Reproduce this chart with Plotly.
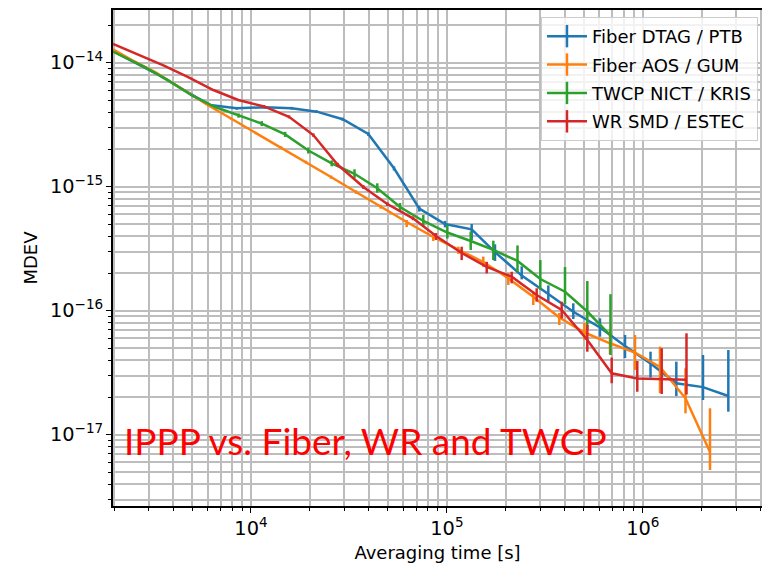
import plotly.graph_objects as go

# averaging time [s] and MDEV, with upper / lower error bar ends, per link
tau_ptb = [1975, 2470, 3351, 4550, 6176, 8453, 11790, 16140, 21650, 29390, 39700, 53700, 72300,
           97800, 133800, 176000, 240900, 329400, 441800, 604600, 811300, 1.095e6, 1.483e6,
           2.029e6, 2.733e6]
mdev_ptb = [1.243e-14, 1.032e-14, 8.03e-15, 6.02e-15, 4.56e-15, 4.29e-15, 4.37e-15, 4.29e-15,
            4.03e-15, 3.50e-15, 2.66e-15, 1.407e-15, 6.65e-16, 5.00e-16, 4.53e-16, 2.97e-16,
            1.92e-16, 1.364e-16, 9.81e-17, 7.32e-17, 5.19e-17, 3.75e-17, 2.60e-17, 2.42e-17, 2.05e-17]
hi_ptb = [1.243e-14, 1.032e-14, 8.03e-15, 6.02e-15, 4.56e-15, 4.40e-15, 4.48e-15, 4.40e-15,
          4.13e-15, 3.60e-15, 2.75e-15, 1.46e-15, 7.0e-16, 5.3e-16, 5.00e-16, 3.43e-16,
          2.28e-16, 1.60e-16, 1.147e-16, 8.68e-17, 6.37e-17, 4.67e-17, 3.88e-17, 4.39e-17, 4.82e-17]
lo_ptb = [1.243e-14, 1.032e-14, 8.03e-15, 6.02e-15, 4.56e-15, 4.18e-15, 4.26e-15, 4.18e-15,
          3.93e-15, 3.40e-15, 2.57e-15, 1.35e-15, 6.3e-16, 4.7e-16, 3.72e-16, 2.52e-16,
          1.79e-16, 1.197e-16, 8.57e-17, 6.17e-17, 4.15e-17, 2.89e-17, 2.05e-17, 1.905e-17, 1.533e-17]

tau_gum = [1975, 2440, 3274, 4392, 5893, 7906, 10600, 14230, 19090, 25610, 34360, 45930, 62340,
           85220, 114400, 153400, 205800, 276100, 374800, 504000, 680000, 912700, 1.224e6,
           1.652e6, 2.203e6]
mdev_gum = [1.282e-14, 1.061e-14, 8.34e-15, 6.25e-15, 4.64e-15, 3.55e-15, 2.71e-15, 2.07e-15,
            1.582e-15, 1.197e-15, 9.06e-16, 6.90e-16, 5.19e-16, 3.93e-16, 3.09e-16, 2.47e-16,
            1.825e-16, 1.297e-16, 8.81e-17, 6.67e-17, 5.46e-17, 4.60e-17, 3.52e-17, 1.966e-17, 7.25e-18]
hi_gum = [1.282e-14, 1.061e-14, 8.34e-15, 6.25e-15, 4.64e-15, 3.62e-15, 2.77e-15, 2.12e-15,
          1.62e-15, 1.23e-15, 9.35e-16, 7.15e-16, 5.39e-16, 4.23e-16, 3.28e-16, 2.73e-16,
          2.01e-16, 1.423e-16, 9.58e-17, 7.96e-17, 6.99e-17, 6.37e-17, 5.13e-17, 3.43e-17, 1.633e-17]
lo_gum = [1.282e-14, 1.061e-14, 8.34e-15, 6.25e-15, 4.64e-15, 3.48e-15, 2.65e-15, 2.02e-15,
          1.54e-15, 1.16e-15, 8.75e-16, 6.65e-16, 4.73e-16, 3.65e-16, 2.87e-16, 2.26e-16,
          1.612e-16, 1.112e-16, 7.67e-17, 5.80e-17, 4.48e-17, 3.33e-17, 2.16e-17, 1.488e-17, 5.19e-18]

tau_kris = [1975, 2886, 3797, 4992, 6568, 8636, 11350, 14940, 19630, 25820, 33760, 44130, 57620,
            75770, 100500, 132300, 172600, 229300, 299900, 400800, 520900, 684000]
mdev_kris = [1.227e-14, 9.15e-15, 7.16e-15, 5.44e-15, 4.39e-15, 3.75e-15, 3.23e-15, 2.64e-15,
             1.958e-15, 1.544e-15, 1.271e-15, 9.71e-16, 6.86e-16, 5.29e-16, 4.27e-16, 3.65e-16,
             3.09e-16, 2.52e-16, 1.80e-16, 1.423e-16, 9.85e-17, 6.31e-17]
hi_kris = [1.227e-14, 9.15e-15, 7.16e-15, 5.44e-15, 4.39e-15, 3.90e-15, 3.38e-15, 2.77e-15,
           2.07e-15, 1.63e-15, 1.381e-15, 1.065e-15, 7.39e-16, 5.91e-16, 4.91e-16, 4.34e-16,
           3.67e-16, 3.36e-16, 2.56e-16, 2.25e-16, 1.735e-16, 1.359e-16]
lo_kris = [1.227e-14, 9.15e-15, 7.16e-15, 5.44e-15, 4.39e-15, 3.60e-15, 3.08e-15, 2.52e-15,
           1.85e-15, 1.46e-15, 1.169e-15, 8.95e-16, 6.29e-16, 4.73e-16, 3.82e-16, 3.09e-16,
           2.56e-16, 2.06e-16, 1.469e-16, 1.132e-16, 6.99e-17, 4.39e-17]

tau_estec = [1975, 2669, 3571, 4779, 6422, 8613, 11650, 15630, 20800, 27640, 37440, 49630, 67140,
             87990, 119000, 159700, 214200, 287300, 385500, 520900, 693900, 937400, 1.249e6, 1.671e6]
mdev_estec = [1.415e-14, 1.164e-14, 9.51e-15, 7.65e-15, 6.02e-15, 5.00e-15, 4.44e-15, 3.66e-15,
              2.61e-15, 1.510e-15, 9.94e-16, 7.25e-16, 5.56e-16, 4.00e-16, 2.92e-16, 2.26e-16,
              1.88e-16, 1.339e-16, 1.013e-16, 5.80e-17, 3.13e-17, 2.84e-17, 2.80e-17, 2.78e-17]
hi_estec = [1.415e-14, 1.164e-14, 9.51e-15, 7.65e-15, 6.02e-15, 5.10e-15, 4.55e-15, 3.76e-15,
            2.69e-15, 1.56e-15, 1.03e-15, 7.5e-16, 5.75e-16, 4.23e-16, 3.28e-16, 2.48e-16,
            2.06e-16, 1.515e-16, 1.182e-16, 7.67e-17, 4.19e-17, 3.93e-17, 4.98e-17, 6.57e-17]
lo_estec = [1.415e-14, 1.164e-14, 9.51e-15, 7.65e-15, 6.02e-15, 4.90e-15, 4.33e-15, 3.56e-15,
            2.53e-15, 1.46e-15, 9.6e-16, 7.0e-16, 5.37e-16, 3.72e-16, 2.56e-16, 2.00e-16,
            1.663e-16, 1.182e-16, 8.68e-17, 4.67e-17, 2.60e-17, 2.22e-17, 2.13e-17, 2.11e-17]

series = [
    ("Fiber DTAG / PTB", "#1f77b4", tau_ptb, mdev_ptb, hi_ptb, lo_ptb),
    ("Fiber AOS / GUM", "#ff7f0e", tau_gum, mdev_gum, hi_gum, lo_gum),
    ("TWCP NICT / KRIS", "#2ca02c", tau_kris, mdev_kris, hi_kris, lo_kris),
    ("WR SMD / ESTEC", "#d62728", tau_estec, mdev_estec, hi_estec, lo_estec),
]

FONT = "DejaVu Sans"
GRID = "#bdbdbd"

fig = go.Figure()

# legend entries: line with a vertical errorbar tick
for name, color, *_ in series:
    fig.add_trace(go.Scatter(
        x=[None], y=[None], name=name, mode="lines+markers", legendgroup=name,
        line=dict(color=color, width=2.5),
        marker=dict(symbol="line-ns", size=16, line=dict(color=color, width=2.5)),
    ))

for name, color, tau, mdev, hi, lo in series:
    fig.add_trace(go.Scatter(
        x=tau, y=mdev, mode="lines", name=name, showlegend=False, legendgroup=name,
        line=dict(color=color, width=2.5),
        error_y=dict(
            type="data", symmetric=False,
            array=[h - m for h, m in zip(hi, mdev)],
            arrayminus=[m - l for m, l in zip(mdev, lo)],
            color=color, thickness=2.5, width=0,
        ),
    ))

fig.add_annotation(
    text="IPPP vs. Fiber, WR and TWCP", xref="paper", yref="paper",
    x=0.0146, y=0.133, xanchor="left", yanchor="middle", showarrow=False,
    font=dict(family="Lato", size=37, color="#ff0000"),
)

fig.update_xaxes(
    type="log", range=[3.2956, 6.6085], dtick=1, exponentformat="power", automargin=False,
    showline=True, linecolor="black", linewidth=1.5, mirror=True,
    ticks="outside", ticklen=5, tickwidth=1.2, tickcolor="black",
    showgrid=True, gridcolor=GRID, gridwidth=1.6, zeroline=False,
    minor=dict(dtick="D1", ticks="outside", ticklen=3, tickcolor="black",
               showgrid=True, gridcolor=GRID, gridwidth=1.6),
    tickfont=dict(family=FONT, size=15.5, color="black"),
    title=dict(text="Averaging time [s]", font=dict(family=FONT, size=18, color="black"), standoff=7),
)
fig.update_yaxes(
    type="log", range=[-17.575, -13.575], dtick=1, exponentformat="power", automargin=False,
    showline=True, linecolor="black", linewidth=1.5,
    ticks="outside", ticklen=5, tickwidth=1.2, tickcolor="black",
    showgrid=True, gridcolor=GRID, gridwidth=1.6, zeroline=False,
    minor=dict(dtick="D1", ticks="outside", ticklen=3, tickcolor="black",
               showgrid=True, gridcolor=GRID, gridwidth=1.6),
    tickfont=dict(family=FONT, size=15.5, color="black"),
    title=dict(text="MDEV", font=dict(family=FONT, size=18, color="black"), standoff=8),
)

fig.update_layout(
    width=762, height=570,
    margin=dict(l=113, r=0, t=10, b=64),
    paper_bgcolor="white", plot_bgcolor="white",
    font=dict(family=FONT, size=18, color="black"),
    legend=dict(
        x=0.9938, y=0.986, xanchor="right", yanchor="top", tracegroupgap=2,
        bgcolor="rgba(255,255,255,0.8)", bordercolor="#cccccc", borderwidth=1,
        font=dict(family=FONT, size=18, color="black"), itemwidth=40,
    ),
    showlegend=True,
)

# drop the default page margin so the figure sits at the window origin
fig.write_html("out.html", config={"displayModeBar": False},
               post_script="document.body.style.margin='0';")
